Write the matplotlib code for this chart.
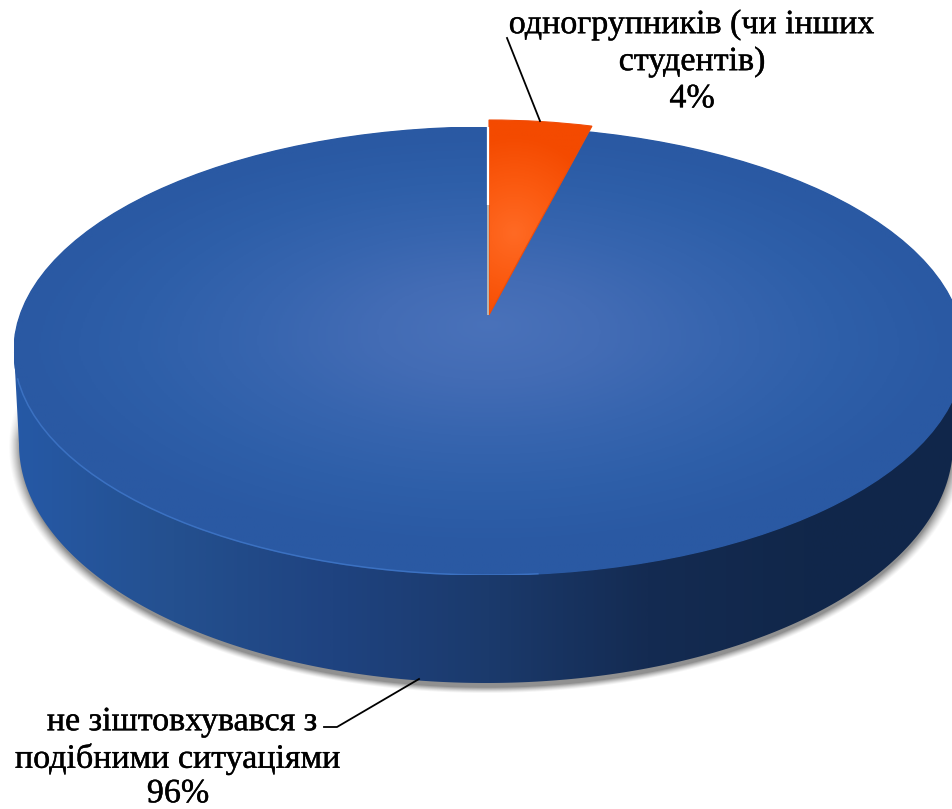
import numpy as np
import matplotlib
matplotlib.use("Agg")
import matplotlib.pyplot as plt
import matplotlib.patheffects as pe
from matplotlib.colors import LinearSegmentedColormap
from matplotlib.patches import Polygon, Ellipse, Arc

# data
categories = ["одногрупників (чи інших\nстудентів)", "не зіштовхувався з\nподібними ситуаціями"]
shares = [4, 96]

W, H = 953, 809
FONT = "Liberation Serif"
FS = 24.5

# blue top face, pixel box: centre, radii
TOP = (489, 351, 475, 224)
# underside of the disc
LOW = (486, 444, 467, 239)
# pulled out orange slice
SLICE = (489, 315, 414, 195)

top_cmap = LinearSegmentedColormap.from_list("top", ["#4a72ba", "#436cb5", "#3765af", "#2e5fa9", "#2a59a3"])
side_cmap = LinearSegmentedColormap.from_list(
    "side", ["#2659a6", "#24508f", "#1f4380", "#1b3a6c", "#142b52", "#11274a", "#10264a"])
slice_cmap = LinearSegmentedColormap.from_list("slice", ["#ff6a24", "#fb5a10", "#f44a00"])


def box_axes(box, zorder):
    cx, cy, rx, ry = box
    ax = fig.add_axes([(cx - rx) / W, 1 - (cy + ry) / H, 2 * rx / W, 2 * ry / H], zorder=zorder)
    return ax


def finish(ax):
    ax.set_aspect("auto")
    ax.set_xlim(-1, 1)
    ax.set_ylim(-1, 1)
    ax.axis("off")


fig = plt.figure(figsize=(W / 100, H / 100), dpi=100, facecolor="white")

# pixel axes for shadow, side and notes
bg = fig.add_axes([0, 0, 1, 1], zorder=1)
bg.set_xlim(0, W)
bg.set_ylim(H, 0)
bg.axis("off")

# soft shadow under the disc
xx, yy = np.meshgrid(np.arange(0, W), np.arange(330, 730))
d = (np.hypot((xx - 486) / 478, (yy - 446) / 247) - 1) * 478
alpha = np.clip(-d / 12, 0, 1) ** 1.3 * np.clip((yy - 395) / 45, 0, 1) * 0.62
shadow = np.zeros(xx.shape + (4,))
shadow[..., :3] = 0.3
shadow[..., 3] = alpha
bg.imshow(shadow, extent=(0, W, 730, 330), aspect="auto", zorder=1)

# side wall
t = np.linspace(0, np.pi, 300)
low_x = LOW[0] + LOW[2] * np.cos(t)
low_y = LOW[1] + LOW[3] * np.sin(t)
wall_xy = np.vstack([
    [TOP[0] + TOP[2], TOP[1]],
    np.column_stack([low_x, low_y]),
    [TOP[0] - TOP[2], TOP[1]],
])
wall = Polygon(wall_xy, closed=True, fc="none", ec="none", transform=bg.transData)
bg.add_patch(wall)
grad = bg.imshow(np.linspace(0, 1, 600)[None, :], cmap=side_cmap, aspect="auto",
                 extent=(14, 964, 700, 340), zorder=2)
grad.set_clip_path(wall)
bg.set_xlim(0, W)
bg.set_ylim(H, 0)

# top face
top_ax = box_axes(TOP, 2)
wedges, _ = top_ax.pie(shares, startangle=90, counterclock=False, radius=1,
                       colors=["#2f5fa9", "#2f5fa9"], wedgeprops={"linewidth": 0})
rim = Ellipse((0, 0), 2, 2, fill=False, ec="#2a59a3", lw=1.0, zorder=3)
top_ax.add_patch(rim)
gx, gy = np.meshgrid(np.linspace(-1, 1, 500), np.linspace(1, -1, 400))
r = np.hypot(gx, gy - 0.12) + 0.15 * np.clip(gy, 0, 1)
im = top_ax.imshow(np.clip(r, 0, 1), cmap=top_cmap, vmin=0, vmax=1, extent=(-1, 1, -1, 1), aspect="auto", zorder=2)
im.set_clip_path(rim)
top_ax.add_patch(Arc((0, 0), 2, 2, theta1=187, theta2=276, ec="#4a86dc", lw=1.1, alpha=0.55, zorder=4))
finish(top_ax)

# orange slice
slice_ax = box_axes(SLICE, 3)
wedges2, _ = slice_ax.pie(shares, startangle=90, counterclock=False, radius=1,
                          colors=["#f44a00", "none"], wedgeprops={"linewidth": 0})
wedges2[1].set_visible(False)
sx, sy = np.meshgrid(np.linspace(-0.3, 0.3, 200), np.linspace(1.05, -0.05, 300))
sr = np.clip(np.hypot((sx - 0.06) * 4.5, (sy - 0.42) * 2.0), 0, 1)
im = slice_ax.imshow(sr, cmap=slice_cmap, vmin=0, vmax=1, extent=(-0.3, 0.3, -0.05, 1.05), aspect="auto", zorder=2)
im.set_clip_path(wedges2[0])
wedges2[0].set(fc="none", ec="#f04c08", lw=0.8, zorder=3)
finish(slice_ax)

# notes on top of everything
over = fig.add_axes([0, 0, 1, 1], zorder=4)
over.set_xlim(0, W)
over.set_ylim(H, 0)
over.axis("off")

# gap beside the slice
over.plot([488.5, 488.5], [127, 205], color="white", lw=1.6, solid_capstyle="butt")
over.plot([488.5, 488.5], [205, 315], color="#b9b5b0", lw=1.4, solid_capstyle="butt")

# leader lines
over.plot([507, 540], [38, 121], color="black", lw=1.3)
over.plot([324, 337, 419], [727, 727, 679], color="black", lw=1.3)

thick = [pe.withStroke(linewidth=0.3, foreground="black")]
first = categories[0].split("\n")
second = categories[1].split("\n")
for line, x, y in [(first[0], 692, 25),
                   (first[1], 692, 62),
                   (f"{shares[0]}%", 692, 99)]:
    over.text(x, y, line, ha="center", va="center", family=FONT, fontsize=FS, color="black", path_effects=thick)
for line, x, y in [(second[0], 182, 722),
                   (second[1], 178, 759),
                   (f"{shares[1]}%", 178, 794)]:
    over.text(x, y, line, ha="center", va="center", family=FONT, fontsize=FS, color="black", path_effects=thick)

fig.savefig("out.png", dpi=100, facecolor="white")
